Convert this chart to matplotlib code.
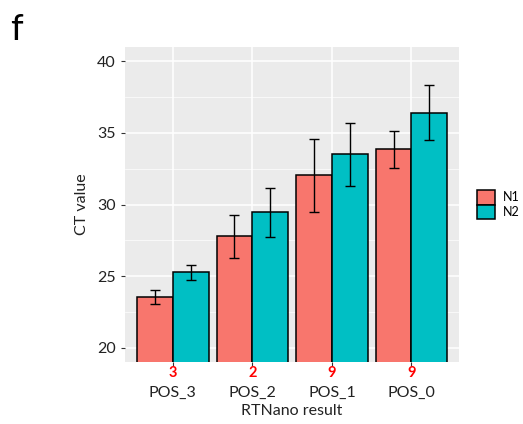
import numpy as np
import matplotlib.pyplot as plt

# data
groups = ['POS_3', 'POS_2', 'POS_1', 'POS_0']
counts = ['3', '2', '9', '9']
n1_mean = [23.55, 27.8, 32.05, 33.85]
n1_err = [0.5, 1.5, 2.55, 1.3]
n2_mean = [25.28, 29.46, 33.5, 36.43]
n2_err = [0.52, 1.7, 2.2, 1.95]

plt.rcParams['font.family'] = ['Lato', 'DejaVu Sans']

fig = plt.figure(figsize=(5.23, 4.24), dpi=100)
ax = fig.add_axes([0.239, 0.146, 0.639, 0.743])
ax.set_facecolor('#EBEBEB')

x = np.arange(1, len(groups) + 1)
w = 0.45
ax.bar(x - w / 2, n1_mean, w, color='#F8766D', edgecolor='black', linewidth=1.1, label='N1', zorder=3)
ax.bar(x + w / 2, n2_mean, w, color='#00BFC4', edgecolor='black', linewidth=1.1, label='N2', zorder=3)
ax.errorbar(x - w / 2, n1_mean, yerr=n1_err, fmt='none', ecolor='black', elinewidth=1, capsize=3.5, capthick=1, zorder=4)
ax.errorbar(x + w / 2, n2_mean, yerr=n2_err, fmt='none', ecolor='black', elinewidth=1, capsize=3.5, capthick=1, zorder=4)

ax.set_xlim(0.4, 4.6)
ax.set_ylim(19, 41)
ax.set_yticks([20, 25, 30, 35, 40])
ax.set_yticks([22.5, 27.5, 32.5, 37.5], minor=True)
ax.set_xticks(x)
ax.set_xticklabels(groups)
ax.grid(True, which='major', color='white', linewidth=1.1, zorder=0)
ax.grid(True, which='minor', axis='y', color='white', linewidth=0.5, zorder=0)
ax.set_axisbelow(True)
for s in ax.spines.values():
    s.set_visible(False)
ax.tick_params(which='major', length=3, color='#333333', labelsize=11.5, labelcolor='#222222')
ax.tick_params(axis='x', pad=14)
ax.tick_params(which='minor', length=0)

for xi, c in zip(x, counts):
    ax.text(xi, -0.036, c, transform=ax.get_xaxis_transform(), ha='center', va='center',
            color='red', fontsize=10.5, fontweight='bold')

ax.set_xlabel('RTNano result', fontsize=11.5, color='#222222', labelpad=3)
ax.set_ylabel('CT value', fontsize=11.5, color='#222222', labelpad=6)

leg = ax.legend(loc='center left', bbox_to_anchor=(1.02, 0.5), frameon=False, fontsize=9,
                handlelength=1.45, handleheight=1.45, labelspacing=0.0, handletextpad=0.6)

fig.text(0.02, 0.97, 'f', fontsize=26, va='top', ha='left')

fig.savefig('out.png', dpi=100, facecolor='white')
